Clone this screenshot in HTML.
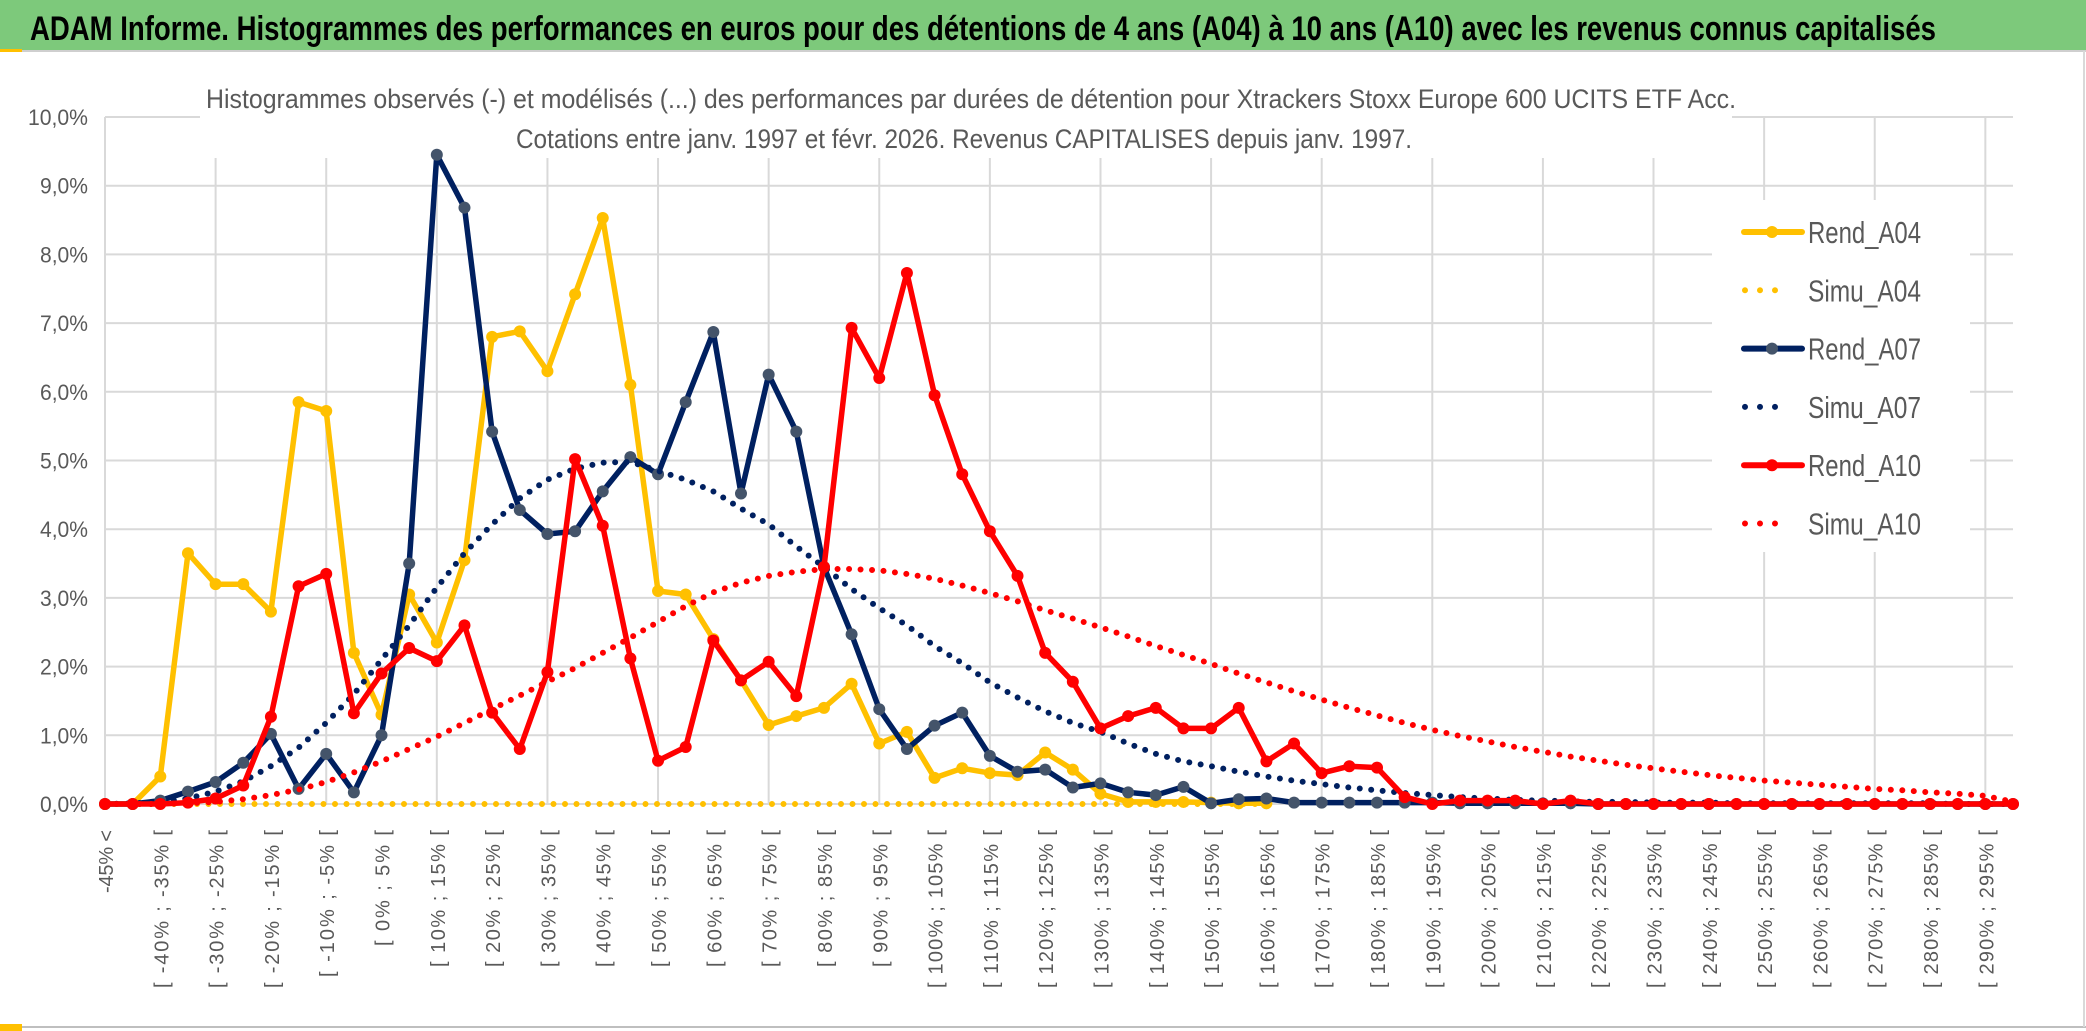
<!DOCTYPE html>
<html><head><meta charset="utf-8"><style>
html,body{margin:0;padding:0;background:#fff;}
svg{display:block;}
text{font-family:"Liberation Sans Narrow","Liberation Sans",sans-serif;}
</style></head><body>
<svg id="chart" width="2086" height="1031" viewBox="0 0 2086 1031" xmlns="http://www.w3.org/2000/svg">
<rect x="0" y="0" width="2086" height="1031" fill="#fff"/>
<rect x="0" y="0" width="2086" height="50" fill="#7DC97B"/>
<line x1="0" y1="51" x2="2086" y2="51" stroke="#cfcfcf" stroke-width="2"/>
<rect x="0" y="49" width="22" height="3" fill="#FFC000"/>
<text x="30" y="40" font-size="34" font-weight="bold" fill="#000" textLength="1906" lengthAdjust="spacingAndGlyphs">ADAM Informe. Histogrammes des performances en euros pour des détentions de 4 ans (A04) à 10 ans (A10) avec les revenus connus capitalisés</text>
<line x1="0" y1="1027" x2="2086" y2="1027" stroke="#bfbfbf" stroke-width="2"/>
<rect x="0" y="1024" width="22" height="7" fill="#FFC000"/>
<line x1="2084" y1="51" x2="2084" y2="1027" stroke="#d9d9d9" stroke-width="2"/>
<g id="grid"></g>
<g id="yaxis"></g>
<g id="xaxis"></g>
<rect x="200" y="60" width="1532" height="98" fill="#fff"/>
<text x="971" y="108" font-size="27" fill="#595959" text-anchor="middle" textLength="1530" lengthAdjust="spacingAndGlyphs">Histogrammes observés (-) et modélisés (...) des performances par durées de détention pour Xtrackers Stoxx Europe 600 UCITS ETF Acc.</text>
<text x="964" y="148" font-size="27" fill="#595959" text-anchor="middle" textLength="896" lengthAdjust="spacingAndGlyphs">Cotations entre janv. 1997 et févr. 2026. Revenus CAPITALISES depuis janv. 1997.</text>
<g id="series"></g>
<rect x="1712" y="200" width="258" height="352" fill="#fff"/>
<g id="legend"></g>
</svg>
<script>
const categories = (function(){const a=["-45% <"];for(let s=-45;s<=295;s+=5){a.push("[ "+s+"% ; "+(s+5)+"% [");}return a;})();
const yTicks = [0,1,2,3,4,5,6,7,8,9,10];
const yTickLabels = ["0,0%","1,0%","2,0%","3,0%","4,0%","5,0%","6,0%","7,0%","8,0%","9,0%","10,0%"];
const seriesNames = ["Rend_A04","Simu_A04","Rend_A07","Simu_A07","Rend_A10","Simu_A10"];
const rendA04 = [0,0,0.4,3.65,3.2,3.2,2.8,5.85,5.72,2.2,1.3,3.05,2.35,3.55,6.8,6.88,6.3,7.42,8.53,6.1,3.1,3.05,2.4,1.8,1.15,1.28,1.4,1.75,0.88,1.05,0.38,0.52,0.45,0.42,0.75,0.5,0.15,0.03,0.03,0.03,0.02,0.01,0.01];
const simuA04 = [0,0,0,0,0,0,0,0,0,0,0,0,0,0,0,0,0,0,0,0,0,0,0,0,0,0,0,0,0,0,0,0,0,0,0,0,0,0,0,0,0,0,0];
const rendA07 = [0,0,0.05,0.18,0.32,0.6,1.02,0.22,0.73,0.17,1.0,3.5,9.45,8.68,5.42,4.28,3.93,3.97,4.55,5.05,4.8,5.85,6.87,4.52,6.25,5.42,3.45,2.47,1.38,0.8,1.14,1.33,0.7,0.47,0.5,0.24,0.3,0.17,0.13,0.25,0.01,0.07,0.08,0.02,0.02,0.02,0.02,0.02,0.02,0.01,0.01,0.01,0.01,0.01,0,0,0,0,0,0,0,0,0,0,0,0,0,0,0,0];
const simuA07 = [0,0.01,0.03,0.08,0.18,0.33,0.55,0.82,1.18,1.6,2.1,2.6,3.15,3.65,4.07,4.45,4.72,4.88,4.97,4.98,4.85,4.72,4.55,4.3,4.07,3.75,3.45,3.13,2.85,2.6,2.3,2.05,1.77,1.55,1.35,1.18,1.05,0.88,0.73,0.62,0.55,0.47,0.4,0.34,0.29,0.24,0.2,0.16,0.13,0.1,0.08,0.06,0.05,0.04,0.03,0.03,0.02,0.02,0.02,0.01,0.01,0.01,0.01,0.01,0.01,0.01,0.01,0,0,0];
const rendA10 = [0,0,0,0.02,0.08,0.27,1.27,3.17,3.35,1.32,1.9,2.27,2.08,2.6,1.33,0.8,1.92,5.02,4.05,2.12,0.63,0.83,2.38,1.8,2.07,1.57,3.45,6.93,6.2,7.73,5.95,4.8,3.97,3.32,2.2,1.78,1.1,1.28,1.4,1.1,1.1,1.4,0.62,0.88,0.45,0.55,0.53,0.1,0,0.05,0.05,0.05,0,0.05,0,0,0,0,0,0,0,0,0,0,0,0,0,0,0,0];
const simuA10 = [0,0,0,0.01,0.03,0.07,0.13,0.21,0.32,0.46,0.62,0.8,0.98,1.18,1.38,1.58,1.78,1.98,2.2,2.42,2.65,2.88,3.08,3.22,3.32,3.38,3.42,3.42,3.4,3.35,3.28,3.18,3.07,2.95,2.82,2.7,2.57,2.44,2.3,2.17,2.04,1.9,1.77,1.64,1.52,1.4,1.29,1.18,1.08,0.99,0.91,0.83,0.76,0.69,0.63,0.57,0.52,0.47,0.42,0.38,0.34,0.31,0.28,0.25,0.22,0.2,0.17,0.15,0.12,0.03];

const NS="http://www.w3.org/2000/svg";
const X0=105, X1=2013, Y0=804, YTOP=117;
function xPos(i){return X0+(X1-X0)*i/(categories.length-1);}
function yPos(v){return Y0-(Y0-YTOP)*v/10;}
function mk(tag,attrs,parent){const e=document.createElementNS(NS,tag);for(const k in attrs)e.setAttribute(k,attrs[k]);parent.appendChild(e);return e;}

const grid=document.getElementById('grid');
yTicks.forEach(function(t){
  const l=mk('line',{x1:X0,x2:X1,y1:yPos(t),y2:yPos(t),stroke:'#d9d9d9','stroke-width':2},grid);
  
  
});
for(let i=0;i<categories.length;i+=4){
  const l=mk('line',{x1:xPos(i),x2:xPos(i),y1:YTOP,y2:Y0,stroke:'#d9d9d9','stroke-width':2},grid);
  
  
}
const yax=document.getElementById('yaxis');
yTicks.forEach(function(t,k){
  const tx=mk('text',{x:88,y:yPos(t)+8,'font-size':22,fill:'#595959','text-anchor':'end',textLength:yTickLabels[k].length*12,lengthAdjust:'spacingAndGlyphs'},yax);
  tx.textContent=yTickLabels[k];
  
  
});
const xax=document.getElementById('xaxis');
for(let i=0;i<categories.length;i+=2){
  const x=xPos(i)+8, y=830;
  const tx=mk('text',{x:x,y:y,'font-size':20,fill:'#595959','text-anchor':'end',transform:'rotate(-90 '+x+' '+y+')',style:'font-family:"Liberation Sans",sans-serif',textLength:(categories[i].length*10.5).toFixed(0),lengthAdjust:'spacing'},xax);
  tx.textContent=categories[i];
  
  
}
const sg=document.getElementById('series');
function drawLine(vals,color,dotted,markerFill,name){
  const g=mk('g',{},sg);
  
  
  let d='';
  vals.forEach(function(v,i){if(v===null)return;d+=(d?'L':'M')+xPos(i).toFixed(1)+' '+yPos(v).toFixed(1);});
  const p=mk('path',{d:d,fill:'none',stroke:color,'stroke-width':dotted?6:5.5,'stroke-linejoin':'round','stroke-linecap':'round','stroke-dasharray':dotted?'0 11.5':'none'},g);
  
  
  if(markerFill){
    vals.forEach(function(v,i){
      const c=mk('circle',{cx:xPos(i),cy:yPos(v),r:6,fill:markerFill},g);
      
      
    });
  }
}
drawLine(rendA04,'#FFC000',false,'#FFC000','rend-a04');
drawLine(simuA04,'#FFC000',true,null,'simu-a04');
drawLine(rendA07,'#002060',false,'#44546A','rend-a07');
drawLine(simuA07,'#002060',true,null,'simu-a07');
drawLine(rendA10,'#FF0000',false,'#FF0000','rend-a10');
drawLine(simuA10,'#FF0000',true,null,'simu-a10');

const lg=document.getElementById('legend');
const legColors=['#FFC000','#FFC000','#002060','#002060','#FF0000','#FF0000'];
const legMarkers=['#FFC000',null,'#44546A',null,'#FF0000',null];
seriesNames.forEach(function(n,k){
  const y=232+k*58.3;
  const g=mk('g',{},lg);
  
  
  const dotted=k%2===1;
  mk('line',{x1:dotted?1745:1744,x2:dotted?1790:1802,y1:y,y2:y,stroke:legColors[k],'stroke-width':6,'stroke-linecap':'round','stroke-dasharray':dotted?'0 15':'none'},g);
  if(legMarkers[k]) mk('circle',{cx:1772,cy:y,r:6,fill:legMarkers[k]},g);
  const t=mk('text',{x:1808,y:y+11,'font-size':31,fill:'#595959',textLength:113,lengthAdjust:'spacingAndGlyphs'},g);
  t.textContent=n;
});
</script>
</body></html>
